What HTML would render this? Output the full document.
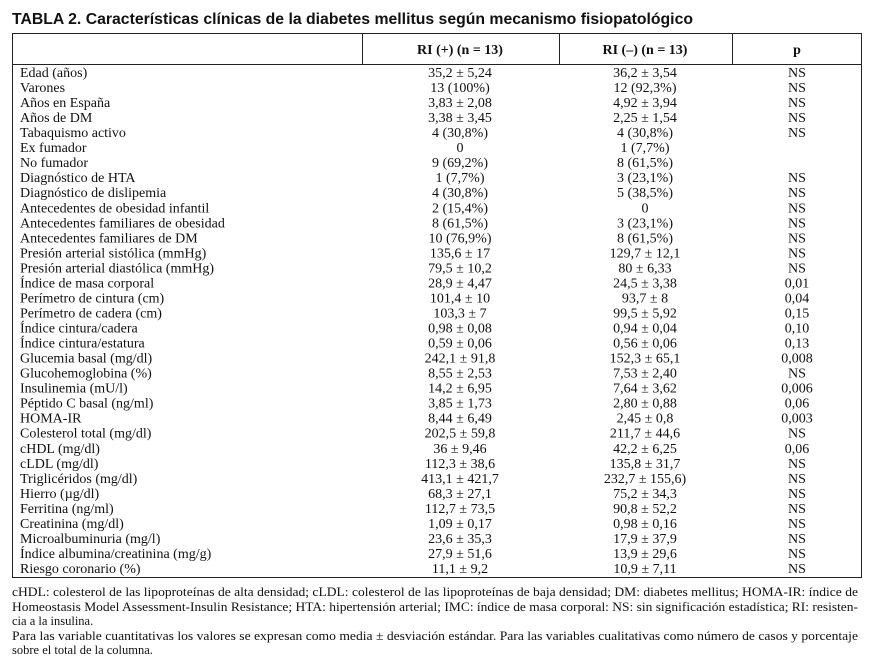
<!DOCTYPE html>
<html><head><meta charset="utf-8"><style>
html,body{margin:0;padding:0;background:#fff;width:872px;height:659px;overflow:hidden}
svg{display:block}
text{font-family:"Liberation Serif",serif;fill:#111}
.t{font-family:"Liberation Sans",sans-serif;font-weight:bold;font-size:16px}
.c{font-size:14px}
.f{font-size:12.5px}
</style></head><body>
<svg id="s" width="872" height="659">
<text class="t" x="12" y="24" textLength="681" lengthAdjust="spacingAndGlyphs">TABLA 2. Características clínicas de la diabetes mellitus según mecanismo fisiopatológico</text>
<rect x="12.5" y="33.5" width="849" height="544" fill="none" stroke="#222" stroke-width="1"/>
<line x1="12" y1="64.5" x2="862" y2="64.5" stroke="#222"/>
<line x1="362.5" y1="34" x2="362.5" y2="64" stroke="#222"/>
<line x1="559.5" y1="34" x2="559.5" y2="64" stroke="#222"/>
<line x1="732.5" y1="34" x2="732.5" y2="64" stroke="#222"/>
<text class="c" x="460" y="54" text-anchor="middle" font-weight="bold">RI (+) (n = 13)</text>
<text class="c" x="645" y="54" text-anchor="middle" font-weight="bold">RI (–) (n = 13)</text>
<text class="c" x="797" y="54" text-anchor="middle" font-weight="bold">p</text>
<g id="rows"></g>
<text class="f" x="12" y="596" textLength="846" lengthAdjust="spacingAndGlyphs">cHDL: colesterol de las lipoproteínas de alta densidad; cLDL: colesterol de las lipoproteínas de baja densidad; DM: diabetes mellitus; HOMA-IR: índice de</text>
<text class="f" x="12" y="611" textLength="846" lengthAdjust="spacingAndGlyphs">Homeostasis Model Assessment-Insulin Resistance; HTA: hipertensión arterial; IMC: índice de masa corporal: NS: sin significación estadística; RI: resisten-</text>
<text class="f" x="12" y="625">cia a la insulina.</text>
<text class="f" x="12" y="640" textLength="846" lengthAdjust="spacingAndGlyphs">Para las variable cuantitativas los valores se expresan como media ± desviación estándar. Para las variables cualitativas como número de casos y porcentaje</text>
<text class="f" x="12" y="654">sobre el total de la columna.</text>
</svg>
<script>
const labels=["Edad (años)","Varones","Años en España","Años de DM","Tabaquismo activo","Ex fumador","No fumador","Diagnóstico de HTA","Diagnóstico de dislipemia","Antecedentes de obesidad infantil","Antecedentes familiares de obesidad","Antecedentes familiares de DM","Presión arterial sistólica (mmHg)","Presión arterial diastólica (mmHg)","Índice de masa corporal","Perímetro de cintura (cm)","Perímetro de cadera (cm)","Índice cintura/cadera","Índice cintura/estatura","Glucemia basal (mg/dl)","Glucohemoglobina (%)","Insulinemia (mU/l)","Péptido C basal (ng/ml)","HOMA-IR","Colesterol total (mg/dl)","cHDL (mg/dl)","cLDL (mg/dl)","Triglicéridos (mg/dl)","Hierro (µg/dl)","Ferritina (ng/ml)","Creatinina (mg/dl)","Microalbuminuria (mg/l)","Índice albumina/creatinina (mg/g)","Riesgo coronario (%)"];
const riPos=["35,2 ± 5,24","13 (100%)","3,83 ± 2,08","3,38 ± 3,45","4 (30,8%)","0","9 (69,2%)","1 (7,7%)","4 (30,8%)","2 (15,4%)","8 (61,5%)","10 (76,9%)","135,6 ± 17","79,5 ± 10,2","28,9 ± 4,47","101,4 ± 10","103,3 ± 7","0,98 ± 0,08","0,59 ± 0,06","242,1 ± 91,8","8,55 ± 2,53","14,2 ± 6,95","3,85 ± 1,73","8,44 ± 6,49","202,5 ± 59,8","36 ± 9,46","112,3 ± 38,6","413,1 ± 421,7","68,3 ± 27,1","112,7 ± 73,5","1,09 ± 0,17","23,6 ± 35,3","27,9 ± 51,6","11,1 ± 9,2"];
const riNeg=["36,2 ± 3,54","12 (92,3%)","4,92 ± 3,94","2,25 ± 1,54","4 (30,8%)","1 (7,7%)","8 (61,5%)","3 (23,1%)","5 (38,5%)","0","3 (23,1%)","8 (61,5%)","129,7 ± 12,1","80 ± 6,33","24,5 ± 3,38","93,7 ± 8","99,5 ± 5,92","0,94 ± 0,04","0,56 ± 0,06","152,3 ± 65,1","7,53 ± 2,40","7,64 ± 3,62","2,80 ± 0,88","2,45 ± 0,8","211,7 ± 44,6","42,2 ± 6,25","135,8 ± 31,7","232,7 ± 155,6)","75,2 ± 34,3","90,8 ± 52,2","0,98 ± 0,16","17,9 ± 37,9","13,9 ± 29,6","10,9 ± 7,11"];
const pVals=["NS","NS","NS","NS","NS","","","NS","NS","NS","NS","NS","NS","NS","0,01","0,04","0,15","0,10","0,13","0,008","NS","0,006","0,06","0,003","NS","0,06","NS","NS","NS","NS","NS","NS","NS","NS"];
const g=document.getElementById('rows');
const NS='http://www.w3.org/2000/svg';
function rowY(i){return 77+i*15.03;}
function mk(x,y,txt,anchor){
  const t=document.createElementNS(NS,'text');
  t.setAttribute('x',x);t.setAttribute('y',y);t.setAttribute('class','c');
  if(anchor)t.setAttribute('text-anchor',anchor);
  t.textContent=txt;g.appendChild(t);return t;
}
labels.forEach((l,i)=>{
  const y=rowY(i);
  const a=mk(20,y,l);
  
  
  const b=mk(460,y,riPos[i],'middle');
  
  
  const c=mk(645,y,riNeg[i],'middle');
  
  
  const d=mk(797,y,pVals[i],'middle');
  
  
});
</script>
</body></html>
